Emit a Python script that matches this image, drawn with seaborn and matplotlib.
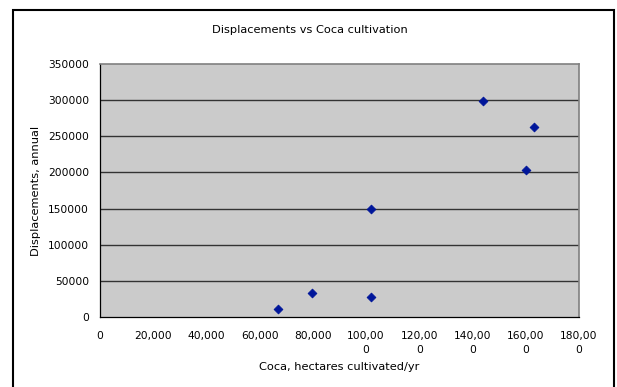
import matplotlib
matplotlib.use("Agg")
import matplotlib.pyplot as plt
import seaborn as sns
import pandas as pd
from matplotlib.patches import Rectangle

# Hectares of coca cultivated per year and annual displacements
coca_hectares = [67000, 79500, 102000, 102000, 144000, 160000, 163000]
displacements = [10500, 33000, 27000, 149000, 299000, 203000, 263000]

x_ticks = [0, 20000, 40000, 60000, 80000, 100000, 120000, 140000, 160000, 180000]
x_tick_labels = ["0", "20,000", "40,000", "60,000", "80,000",
                 "100,00\n0", "120,00\n0", "140,00\n0", "160,00\n0", "180,00\n0"]
y_ticks = [0, 50000, 100000, 150000, 200000, 250000, 300000, 350000]
y_tick_labels = [str(v) for v in y_ticks]

df = pd.DataFrame({"coca": coca_hectares, "displacements": displacements})

sns.set_style("white")
plt.rcParams["font.family"] = ["DejaVu Sans"]
plt.rcParams["text.color"] = "black"
plt.rcParams["axes.labelcolor"] = "black"
plt.rcParams["xtick.color"] = "black"
plt.rcParams["ytick.color"] = "black"

W, H = 617, 387
fig = plt.figure(figsize=(W / 100, H / 100), dpi=100)
ax = fig.add_axes([100 / W, 1 - 317 / H, (579 - 100) / W, (317 - 64) / H])
ax.set_facecolor("#CBCBCB")

sns.scatterplot(data=df, x="coca", y="displacements", ax=ax, marker="D",
                s=20, color="#00169A", edgecolor="#00169A", linewidth=0.6, zorder=3)

ax.set_xlim(0, 180000)
ax.set_ylim(0, 350000)
ax.set_xticks(x_ticks)
ax.set_xticklabels(x_tick_labels, fontsize=7.7, linespacing=1.5)
ax.set_yticks(y_ticks)
ax.set_yticklabels(y_tick_labels, fontsize=7.7)
ax.tick_params(axis="both", direction="out", length=4, width=0.8,
               color="black", labelcolor="black", pad=4)
ax.tick_params(axis="x", pad=6)

for y in y_ticks[1:-1]:
    ax.axhline(y, color="#333333", linewidth=1.0, zorder=1)

for side in ("left", "bottom"):
    ax.spines[side].set_color("black")
    ax.spines[side].set_linewidth(0.9)
for side in ("top", "right"):
    ax.spines[side].set_color("#808080")
    ax.spines[side].set_linewidth(1.2)

ax.set_xlabel("Coca, hectares cultivated/yr", fontsize=8.2, labelpad=5, color="black")
ax.set_ylabel("Displacements, annual", fontsize=8.2, labelpad=5, color="black")
fig.text(0.5025, 1 - 30 / H, "Displacements vs Coca cultivation",
         ha="center", va="center", fontsize=8.2, color="black")

# Outer chart frame (its lower edge runs past the bottom of the canvas)
fig.patches.append(Rectangle((13 / W, -10 / H), (614 - 13) / W, (377 + 10) / H,
                             transform=fig.transFigure, fill=False,
                             edgecolor="black", linewidth=1.5, zorder=10))

fig.savefig("out.png", dpi=100, facecolor="white")
